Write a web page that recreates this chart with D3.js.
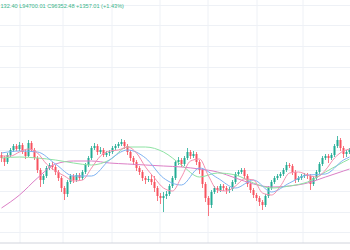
<!DOCTYPE html>
<html><head><meta charset="utf-8">
<script src="https://cdn.jsdelivr.net/npm/d3@7"></script>
<style>html,body{margin:0;padding:0;background:#fff;overflow:hidden}</style>
</head><body><svg id="c" width="350" height="250"></svg>
<script>
// Prices in hundreds of USD
const openP = [955,952,948,955,960,964,961,965,958,954,967,960,952,940,930,934,942,945,943,938,932,922,916,928,934,930,935,932,938,945,952,962,964,958,960,955,957,958,962,964,966,968,964,958,952,948,942,938,932,930,931,928,922,914,912,914,916,924,932,948,950,946,952,958,954,956,948,940,926,912,905,918,922,920,924,922,920,921,928,936,938,940,934,926,920,915,912,908,905,914,922,928,932,934,936,940,945,944,938,930,932,934,935,934,926,932,938,946,952,954,952,955,964,970,962,956,958];
const highP = [958,954,957,962,966,966,968,967,960,970,969,962,954,942,936,944,947,948,945,940,934,924,930,936,936,937,937,940,947,954,964,967,966,963,962,959,960,964,966,968,971,970,966,960,954,950,944,940,934,934,935,934,924,917,918,919,926,934,950,953,952,954,962,960,959,958,950,942,928,914,920,924,924,926,926,924,923,930,938,940,942,942,936,928,922,917,914,910,916,924,930,934,936,938,942,948,947,946,940,934,936,937,937,936,934,940,948,954,956,956,957,966,974,972,964,960,962];
const lowP = [948,944,946,953,958,959,959,956,951,953,958,950,937,923,926,932,940,940,935,929,918,910,913,926,927,928,929,930,936,943,950,960,955,956,953,953,954,956,960,962,964,961,955,949,945,939,935,929,926,928,925,918,909,906,898,911,914,922,930,945,943,944,950,951,952,945,936,922,908,894,902,916,917,918,919,916,917,919,926,934,936,931,923,917,912,909,904,900,903,912,920,926,930,932,934,938,942,935,927,928,930,932,931,920,924,930,936,944,950,947,950,953,962,959,952,953,956];
const closeP = [952,948,955,960,964,961,965,958,954,967,960,952,940,930,934,942,945,943,938,932,922,916,928,934,930,935,932,938,945,952,962,964,958,960,955,957,958,962,964,966,968,964,958,952,948,942,938,932,930,931,928,922,914,912,914,916,924,932,948,950,946,952,958,954,956,948,940,926,912,905,918,922,920,924,922,920,921,928,936,938,940,934,926,920,915,912,908,905,914,922,928,932,934,936,940,945,944,938,930,932,934,935,934,926,932,938,946,952,954,952,955,964,970,962,956,958,960];

// Moving averages (candle index -> value, hundreds of USD)
const fastIdx = [0,3,6,9,12,15,18,21,24,27,30,33,36,39,42,45,48,51,54,57,60,63,66,69,72,75,78,81,84,87,90,93,96,99,102,105,108,111,114,116];
const fastMA = [954,954,958,961,957,946,939,934,929,930,942,954,959,960,963,957,943,932,922,919,933,949,951,934,920,919,924,931,930,917,915,924,937,938,935,933,940,952,959,961];
const slowIdx = [0,6,12,18,24,30,36,42,48,54,60,66,72,78,84,90,96,102,108,114,116];
const blueMA = [957,959,958,946,934,934,950,960,952,932,925,942,932,922,930,918,927,935,936,950,953];
const greenMA = [952,953,952,950,947,945,950,963,963,958,945,933,937,935,927,922,924,928,938,948,951];
const longMA = [902,915,932,946,949,949,947,946,945,944,943,941,938,932,926,923,924,927,933,939,941];

const header = "132.40 L94700.01 C96352.48 +1357.01 (+1.43%)";

const W = 350, H = 250;
const svg = d3.select("#c");
svg.append("rect").attr("width",W).attr("height",H).attr("fill","#fff");

const x = d3.scaleLinear().domain([0, 1]).range([1.5, 4.5]);
const y = d3.scaleLinear().domain([860, 1110]).range([250, 0]);

// grid
const gx = [20, 63, 112, 160, 208, 257, 303];
const gy = d3.range(4.6, 240, 20.7);
const grid = svg.append("g").attr("stroke","#eef1f6").attr("stroke-width",1);
gx.forEach(v => grid.append("line").attr("x1",v).attr("x2",v).attr("y1",0).attr("y2",243));
gy.forEach(v => grid.append("line").attr("x1",0).attr("x2",W).attr("y1",Math.round(v)+0.5).attr("y2",Math.round(v)+0.5));

// candles
const up = "#22ab94", dn = "#f7525f";
const data = closeP.map((c,i)=>({i, o:openP[i], h:highP[i], l:lowP[i], c}));
const cg = svg.append("g");
cg.selectAll("line.w").data(data).join("line")
  .attr("x1",d=>x(d.i)).attr("x2",d=>x(d.i))
  .attr("y1",d=>y(d.h)).attr("y2",d=>y(d.l))
  .attr("stroke",d=>d.c>=d.o?up:dn).attr("stroke-width",0.8);
cg.selectAll("rect").data(data).join("rect")
  .attr("x",d=>x(d.i)-1).attr("width",2)
  .attr("y",d=>y(Math.max(d.o,d.c)))
  .attr("height",d=>Math.max(0.8, Math.abs(y(d.o)-y(d.c))))
  .attr("fill",d=>d.c>=d.o?up:dn);

// MAs
function drawMA(idx, vals, color, w){
  const line = d3.line().x((d,k)=>x(idx[k])).y(d=>y(d)).curve(d3.curveMonotoneX);
  svg.append("path").datum(vals).attr("d",line).attr("fill","none")
    .attr("stroke",color).attr("stroke-width",w).attr("stroke-linejoin","round");
}
drawMA(slowIdx, longMA, "#dc7fc6", 1);
drawMA(slowIdx, greenMA, "#8ee3a3", 1);
drawMA(slowIdx, blueMA, "#7fb3f2", 1);
drawMA(fastIdx, fastMA, "#f58fae", 1);

// bottom axis line
svg.append("rect").attr("x",0).attr("y",243).attr("width",W).attr("height",7).attr("fill","#fff");
svg.append("line").attr("x1",0).attr("x2",W).attr("y1",243).attr("y2",243).attr("stroke","#d1d4dc").attr("stroke-width",1);

// header
svg.append("text").attr("x",0.5).attr("y",7.5).attr("text-anchor","start")
  .attr("font-family","Liberation Sans, Arial, sans-serif").attr("font-size",5.6)
  .attr("fill","#3bb58a").text(header);
</script></body></html>
